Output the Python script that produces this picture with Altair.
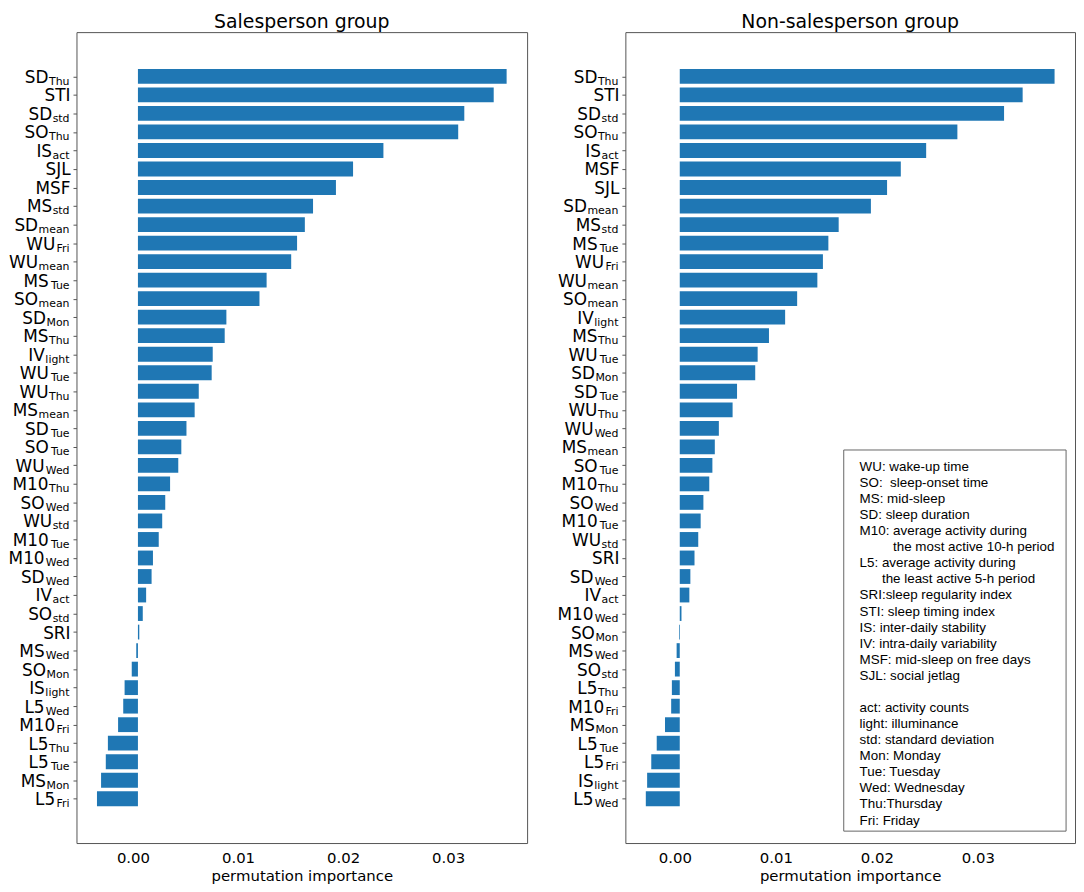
import altair as alt
import pandas as pd

# ---------------- data ----------------
LEFT_TITLE = "Salesperson group"
LEFT_FEATURES = ["SD_Thu", "STI", "SD_std", "SO_Thu", "IS_act", "SJL", "MSF", "MS_std",
                 "SD_mean", "WU_Fri", "WU_mean", "MS_Tue", "SO_mean", "SD_Mon", "MS_Thu",
                 "IV_light", "WU_Tue", "WU_Thu", "MS_mean", "SD_Tue", "SO_Tue", "WU_Wed",
                 "M10_Thu", "SO_Wed", "WU_std", "M10_Tue", "M10_Wed", "SD_Wed", "IV_act",
                 "SO_std", "SRI", "MS_Wed", "SO_Mon", "IS_light", "L5_Wed", "M10_Fri",
                 "L5_Thu", "L5_Tue", "MS_Mon", "L5_Fri"]
LEFT_VALUES = [0.03510, 0.03387, 0.03107, 0.03049, 0.02337, 0.02048, 0.01885, 0.01667,
               0.01589, 0.01515, 0.01459, 0.01225, 0.01157, 0.00842, 0.00826, 0.00712,
               0.00702, 0.00579, 0.00540, 0.00462, 0.00413, 0.00384, 0.00306, 0.00260,
               0.00231, 0.00198, 0.00143, 0.00130, 0.00078, 0.00046, 0.00013, -0.00016,
               -0.00059, -0.00127, -0.00140, -0.00189, -0.00286, -0.00306, -0.00351, -0.00390]

RIGHT_TITLE = "Non-salesperson group"
RIGHT_FEATURES = ["SD_Thu", "STI", "SD_std", "SO_Thu", "IS_act", "MSF", "SJL", "SD_mean",
                  "MS_std", "MS_Tue", "WU_Fri", "WU_mean", "SO_mean", "IV_light", "MS_Thu",
                  "WU_Tue", "SD_Mon", "SD_Tue", "WU_Thu", "WU_Wed", "MS_mean", "SO_Tue",
                  "M10_Thu", "SO_Wed", "M10_Tue", "WU_std", "SRI", "SD_Wed", "IV_act",
                  "M10_Wed", "SO_Mon", "MS_Wed", "SO_std", "L5_Thu", "M10_Fri", "MS_Mon",
                  "L5_Tue", "L5_Fri", "IS_light", "L5_Wed"]
RIGHT_VALUES = [0.03710, 0.03394, 0.03210, 0.02748, 0.02439, 0.02188, 0.02052, 0.01892,
                0.01573, 0.01471, 0.01417, 0.01362, 0.01162, 0.01043, 0.00883, 0.00771,
                0.00747, 0.00567, 0.00523, 0.00387, 0.00347, 0.00323, 0.00292, 0.00234,
                0.00207, 0.00183, 0.00146, 0.00105, 0.00095, 0.00017, -0.00007, -0.00031,
                -0.00048, -0.00078, -0.00085, -0.00146, -0.00228, -0.00282, -0.00323, -0.00336]

X_TICKS = [0.0, 0.01, 0.02, 0.03]
X_TITLE = "permutation importance"

ZW = "\u200b"  # keeps leading spaces / blank lines from being trimmed
NB = "\u00a0"
LEGEND_LINES = [
    "WU: wake-up time",
    "SO:" + NB + " sleep-onset time",
    "MS: mid-sleep",
    "SD: sleep duration",
    "M10: average activity during",
    ZW + NB * 9 + "the most active 10-h period",
    "L5: average activity during",
    ZW + NB * 6 + "the least active 5-h period",
    "SRI:sleep regularity index",
    "STI: sleep timing index",
    "IS: inter-daily stability",
    "IV: intra-daily variability",
    "MSF: mid-sleep on free days",
    "SJL: social jetlag",
    ZW,
    "act: activity counts",
    "light: illuminance",
    "std: standard deviation",
    "Mon: Monday",
    "Tue: Tuesday",
    "Wed: Wednesday",
    "Thu:Thursday",
    "Fri: Friday",
]

# ---------------- style ----------------
FONT = "DejaVu Sans"
MAIN_SIZE = 17
SUB_SIZE = 11
BAR_COLOR = "#1f77b4"
FRAME = "#555555"
PLOT_H = 817
BAR_HALF = 0.4

# approximate DejaVu Sans advance widths (em) used to place the subscript after the label
EM = {"T": .611, "h": .634, "u": .634, "s": .521, "t": .392, "d": .635, "a": .613,
      "c": .550, "m": .974, "e": .615, "n": .634, "F": .575, "r": .411, "i": .278,
      "M": .863, "o": .612, "l": .278, "g": .635, "W": .989}


def sub_width(s):
    return sum(EM.get(ch, 0.6) for ch in s) * SUB_SIZE


one = pd.DataFrame({"k": [0]})


def panel(features, values, title, width, extra=()):
    n = len(features)
    main = [f.split("_")[0] for f in features]
    sub = [f.split("_")[1] if "_" in f else "" for f in features]

    lo, hi = min(values), max(values)
    m = 0.05 * (hi - lo)
    xdomain = [lo - m, hi + m]
    upp = (xdomain[1] - xdomain[0]) / width  # data units per pixel

    df = pd.DataFrame({"feature": features, "value": values, "main": main, "sub": sub,
                       "idx": list(range(n))})
    df["zero"] = 0.0
    df["sub_x"] = xdomain[0] - 7.0 * upp
    df["main_x"] = [xdomain[0] - ((7.5 + sub_width(s)) if s else 6.0) * upp for s in sub]

    ylo, yhi = -BAR_HALF, n - 1 + BAR_HALF
    my = 0.05 * (yhi - ylo)
    yscale = alt.Scale(domain=[ylo - my, yhi + my], nice=False, zero=False, reverse=True)
    yaxis = alt.Axis(values=list(range(n)), labels=False, ticks=True, tickSize=3.5,
                     tickColor=FRAME, tickWidth=1, domain=False, grid=False, title=None)
    xscale = alt.Scale(domain=xdomain, nice=False, zero=False)
    xaxis = alt.Axis(values=X_TICKS, format=".2f", ticks=False, domain=False,
                     grid=False, labelFont=FONT, labelFontSize=15,
                     labelColor="black", labelPadding=8, labelOffset=-5,
                     title=X_TITLE, titleFont=FONT, titleFontSize=15,
                     titleFontWeight="normal", titleColor="black", titlePadding=3)

    base = alt.Chart(df)
    bars = base.transform_calculate(
        y0=f"datum.idx - {BAR_HALF}", y1=f"datum.idx + {BAR_HALF}"
    ).mark_bar(color=BAR_COLOR).encode(
        x=alt.X("value:Q", scale=xscale, axis=xaxis),
        x2="zero:Q",
        y=alt.Y("y0:Q", scale=yscale, axis=yaxis),
        y2="y1:Q",
    )
    main_t = base.mark_text(align="right", baseline="alphabetic", dy=6.5, font=FONT,
                            fontSize=MAIN_SIZE, color="black").encode(
        x=alt.X("main_x:Q", scale=xscale, axis=xaxis),
        y=alt.Y("idx:Q", scale=yscale, axis=yaxis), text="main:N")
    sub_t = base.transform_filter("datum.sub != ''").mark_text(
        align="right", baseline="alphabetic", dy=8.5, font=FONT,
        fontSize=SUB_SIZE, color="black").encode(
        x=alt.X("sub_x:Q", scale=xscale, axis=xaxis),
        y=alt.Y("idx:Q", scale=yscale, axis=yaxis), text="sub:N")
    title_t = alt.Chart(one).mark_text(align="center", baseline="alphabetic", font=FONT,
                                       fontSize=19, color="black").encode(
        x=alt.value(width / 2), y=alt.value(-4.6), text=alt.value(title))
    layers = [bars, main_t, sub_t, title_t] + list(extra)
    return alt.layer(*layers).properties(width=width, height=PLOT_H)


legend_box = alt.Chart(one).mark_rect(fill="white", stroke="#666666", strokeWidth=1).encode(
    x=alt.value(220), x2=alt.value(444), y=alt.value(421), y2=alt.value(805))
legend_text = alt.Chart(one).mark_text(align="left", baseline="top", font="Liberation Sans",
                                       fontSize=13.5, lineHeight=16.2, color="black").encode(
    x=alt.value(236), y=alt.value(431), text=alt.value(LEGEND_LINES))

left = panel(LEFT_FEATURES, LEFT_VALUES, LEFT_TITLE, 454)
right = panel(RIGHT_FEATURES, RIGHT_VALUES, RIGHT_TITLE, 453, extra=[legend_box, legend_text])

chart = alt.hconcat(left, right, spacing=29).properties(
    padding={"left": 0, "top": 0, "right": 0, "bottom": 0},
    background="white",
).configure_view(stroke=FRAME, strokeWidth=1)

chart.save("out.html", embed_options={"renderer": "svg", "actions": False})
